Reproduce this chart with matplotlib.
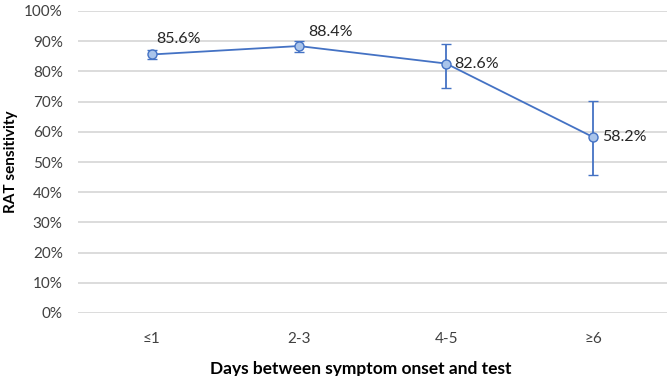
import matplotlib
matplotlib.use('Agg')
import matplotlib.pyplot as plt
from matplotlib.ticker import PercentFormatter

plt.rcParams['font.family'] = ['Lato', 'DejaVu Sans']

# 데이터
categories = ['≤1', '2-3', '4-5', '≥6']
sensitivity = [85.6, 88.4, 82.6, 58.2]
ci_lower = [84.2, 86.5, 74.5, 45.8]
ci_upper = [87.0, 90.2, 89.0, 70.3]
point_labels = ['85.6%', '88.4%', '82.6%', '58.2%']

line_color = '#4472C4'
marker_fill = '#A9C4EB'

fig = plt.figure(figsize=(6.69, 3.76), dpi=100)
ax = fig.add_axes([78 / 669, 63 / 376, 589 / 669, 302 / 376])

x = list(range(len(categories)))
yerr = [[v - lo for v, lo in zip(sensitivity, ci_lower)],
        [hi - v for v, hi in zip(sensitivity, ci_upper)]]

ax.errorbar(x, sensitivity, yerr=yerr, color=line_color, linewidth=1.3,
            marker='o', markersize=6.5, markerfacecolor=marker_fill,
            markeredgecolor=line_color, markeredgewidth=1.0,
            ecolor=line_color, elinewidth=1.3, capsize=3.5, capthick=1.3,
            zorder=3)

# 데이터 라벨
offsets = [(3, 6), (7, 5), (6, 0), (6, 0)]
for xi, yi, lab, (dx, dy) in zip(x, sensitivity, point_labels, offsets):
    ax.annotate(lab, (xi, yi), xytext=(dx, dy), textcoords='offset points',
                ha='left', va='bottom' if dy else 'center', fontsize=11.5,
                color='#262626')

ax.set_xlim(-0.5, len(categories) - 0.5)
ax.set_ylim(0, 100)
ax.set_yticks(range(0, 101, 10))
ax.yaxis.set_major_formatter(PercentFormatter(decimals=0))
ax.set_xticks(x)
ax.set_xticklabels(categories)

ax.grid(axis='y', color='#D9D9D9', linewidth=1.3)
ax.set_axisbelow(True)
for s in ax.spines.values():
    s.set_visible(False)
ax.tick_params(axis='both', length=0, labelsize=11, colors='#404040')
ax.tick_params(axis='y', pad=11)
ax.tick_params(axis='x', pad=14)

ax.set_xlabel('Days between symptom onset and test', fontsize=12.5,
              fontweight='bold')
ax.set_ylabel('RAT sensitivity', fontsize=11, fontweight='bold')
ax.xaxis.set_label_coords(0.48, -0.16)
ax.yaxis.set_label_coords(-0.102, 0.5)

fig.savefig('out.png', dpi=100)
